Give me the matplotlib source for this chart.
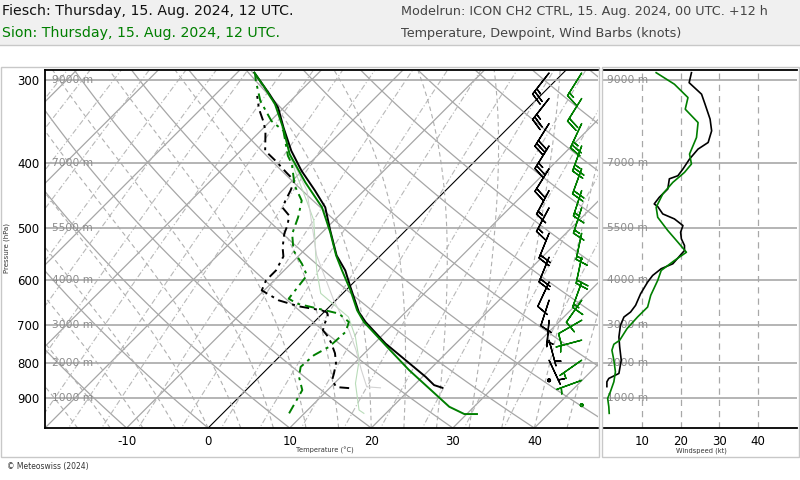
import numpy as np
import matplotlib
matplotlib.use("Agg")
import matplotlib.pyplot as plt
from matplotlib.patches import Rectangle
from matplotlib.lines import Line2D

plt.rcParams['axes.unicode_minus'] = False
plt.rcParams['font.family'] = ['DejaVu Sans']

# ---------------- data ----------------
# Sion (green) temperature profile
sion_p = [952.9, 952.9, 929.2, 872.1, 818.7, 755.5, 693.1, 665.7, 621.3, 580.0, 550.7,
          508.2, 466.2, 427.7, 387.8, 355.8, 326.4, 308.2, 292.7]
sion_t = [31.25, 29.7, 26.96, 22.25, 17.55, 12.0, 6.1, 3.84, 0.58, -2.9, -5.46,
          -9.03, -13.1, -18.2, -23.6, -27.4, -31.5, -34.8, -37.9]
# Sion dewpoint
sion_td_p = [950.6, 877.2, 837.9, 809.5, 777.4, 755.5, 717.5, 693.1, 673.3, 650.5, 639.4,
             590.1, 566.7, 541.3, 511.0, 482.6, 455.6, 432.6, 401.4, 390.1, 357.9,
             345.8, 322.7, 301.2, 292.9]
sion_td = [8.13, 6.9, 4.87, 3.85, 4.05, 4.87, 5.08, 4.26, 2.0, -4.34, -5.98,
           -6.59, -8.64, -11.3, -13.5, -14.8, -16.4, -19.1, -22.1, -23.6, -27.2,
           -29.9, -33.7, -36.7, -37.8]
# Fiesch (black) temperature profile
fie_p = [870.3, 862.2, 837.9, 791.0, 746.8, 693.1, 669.7, 614.3, 580.0, 550.7, 505.2,
         466.2, 440.1, 410.8, 383.4, 353.8, 330.3, 315.3, 292.7]
fie_t = [23.8, 22.45, 20.4, 15.9, 11.4, 6.3, 4.26, 0.17, -2.5, -5.4, -9.24,
         -12.7, -16.0, -20.1, -23.8, -27.6, -30.7, -33.4, -37.9]
# Fiesch dewpoint
fie_td_p = [871.2, 868.1, 847.5, 827.2, 799.2, 772.1, 743.4, 725.6, 713.3, 696.2, 677.3,
            670.3, 665.7, 656.6, 643.1, 621.3, 600.3, 580.0, 552.6, 535.7, 510.5,
            496.6, 479.8, 466.7, 455.6, 440.1, 425.2, 413.6, 396.9, 383.4, 357.9,
            345.8, 331.7, 317.2]
fie_td = [12.4, 10.7, 9.33, 8.71, 7.73, 6.38, 4.54, 3.19, 2.09, 1.47, 0.86,
          0.37, -0.5, -3.8, -7.0, -10.3, -11.0, -11.0, -11.8, -13.0, -14.5,
          -15.1, -16.1, -17.9, -18.4, -19.0, -19.75, -21.7, -24.5, -27.0, -29.4,
          -30.9, -32.9, -34.7]
# faint wet-bulb profiles
sion_tw_p = [950.6, 939.8, 857.2, 791.0, 730.0, 681.3, 627.8, 580.0, 541.3, 487.8, 455.6, 410.8, 353.8]
sion_tw = [17.3, 16.3, 12.6, 10.2, 6.9, 3.6, -2.7, -6.0, -8.6, -12.5, -15.8, -20.9, -27.8]
fie_tw_p = [870.3, 867.3, 818.7, 764.2, 713.3, 643.1, 550.7, 487.8, 440.0, 400.0]
fie_tw = [16.2, 14.4, 11.7, 8.6, 5.3, -0.25, -7.85, -12.8, -17.0, -22.0]

# wind speed profiles (kt)
fie_ws_p = [292.7, 303.0, 315.3, 326.4, 343.7, 357.9, 372.6, 381.2, 394.6, 408.4, 418.0,
            422.5, 437.6, 450.4, 460.8, 465.0, 477.0, 485.3, 496.6, 508.2, 519.9, 532.0,
            541.3, 566.7, 576.5, 590.1, 603.8, 628.5, 654.3, 669.7, 681.3, 701.0, 730.0,
            755.5, 791.0, 828.1, 842.5, 852.4, 866.7]
fie_ws = [22.8, 22.2, 25.4, 26.3, 27.6, 28.0, 27.1, 24.5, 22.3, 20.6, 19.3,
          17.1, 16.7, 14.5, 13.2, 14.1, 15.4, 18.4, 20.6, 20.0, 20.2, 21.0,
          21.0, 18.0, 15.0, 12.8, 11.5, 9.7, 8.4, 7.1, 5.4, 4.5, 4.1,
          4.3, 4.7, 4.1, 1.5, 1.0, 1.0]
sion_ws_p = [292.7, 304.6, 319.0, 332.1, 347.8, 366.2, 387.8, 401.4, 413.2, 427.7, 445.2,
             466.2, 482.6, 505.2, 526.0, 544.6, 560.5, 580.0, 600.3, 632.1, 658.2, 681.3,
             709.1, 738.3, 748.6, 764.2, 791.0, 823.4, 852.4, 882.2, 902.7, 929.2, 950.6]
sion_ws = [13.7, 18.4, 21.9, 21.2, 24.5, 24.1, 22.3, 22.8, 21.0, 18.0, 15.4,
           13.7, 14.1, 16.7, 19.3, 21.5, 18.4, 15.0, 14.1, 12.3, 11.5, 8.9,
           6.2, 4.3, 2.8, 2.3, 2.8, 3.2, 2.8, 1.9, 1.2, 1.5, 1.6]

# wind barbs (speed kt, direction deg)
fie_barb_p = [293, 320, 349, 377, 408, 440, 467, 510, 554, 604, 643, 689, 738, 791, 848]
fie_barb_spd = [22.8, 25.5, 27.8, 26, 20.6, 16.7, 14, 20, 20, 11.5, 7.5, 5, 4.2, 4.7, 1.3]
fie_barb_dir = [218, 218, 212, 212, 212, 208, 208, 202, 202, 205, 198, 185, 165, 155, 150]
sion_barb_p = [293, 320, 349, 377, 408, 440, 467, 510, 554, 604, 643, 689, 738, 791, 848, 924]
sion_barb_spd = [13.7, 22, 24.5, 23, 21.8, 15.4, 13.7, 17, 20, 14, 11.5, 8, 4.3, 2.8, 2.8, 1.5]
sion_barb_dir = [212, 212, 205, 200, 200, 198, 198, 192, 192, 200, 215, 240, 255, 235, 250, 260]

p_levels = [300, 400, 500, 600, 700, 800, 900]
p_labels = ['300', '400', '500', '600', '700', '800', '900']
h_labels = ['9000 m', '7000 m', '5500 m', '4000 m', '3000 m', '2000 m', '1000 m']
t_ticks = [-10, 0, 10, 20, 30, 40]
ws_ticks = [10, 20, 30, 40]

isotherms = list(range(-110, 60, 10))
dry_theta = list(range(-20, 170, 10))
moist_start = list(range(-16, 48, 4))
mix_ratios = [0.01, 0.02, 0.035, 0.05, 0.08, 0.12, 0.2, 0.3, 0.45, 0.7, 1.0, 1.4,
              2.0, 3.0, 4.3, 6.0, 8.5, 12.0, 16.0, 22.0, 30.0, 40.0]

# ---------------- figure layout ----------------
W, H = 800, 480
fig = plt.figure(figsize=(8, 4.8), dpi=100)
def fx(px): return px / W
def fy(py): return 1 - py / H

GREEN = '#007f00'
GRID = '#a6a6a6'

# header
fig.patches.append(Rectangle((0, fy(45)), 1, 1 - fy(45), transform=fig.transFigure,
                             facecolor='#f0f0f0', edgecolor='none', zorder=-5))
fig.lines.append(Line2D([0, 1], [fy(45), fy(45)], transform=fig.transFigure, color='#c8c8c8', lw=1))
fig.text(fx(2), fy(11), 'Fiesch: Thursday, 15. Aug. 2024, 12 UTC.', fontsize=10.2,
         color='#111111', va='center', ha='left')
fig.text(fx(2), fy(33), 'Sion: Thursday, 15. Aug. 2024, 12 UTC.', fontsize=10.2,
         color=GREEN, va='center', ha='left')
fig.text(fx(401), fy(11), 'Modelrun: ICON CH2 CTRL, 15. Aug. 2024, 00 UTC. +12 h', fontsize=9.2,
         color='#444444', va='center', ha='left')
fig.text(fx(401), fy(33), 'Temperature, Dewpoint, Wind Barbs (knots)', fontsize=9.2,
         color='#444444', va='center', ha='left')

# panel frames
fig.patches.append(Rectangle((fx(1), fy(457)), fx(599) - fx(1), fy(67) - fy(457),
                             transform=fig.transFigure, facecolor='none', edgecolor='#c8c8c8', lw=1))
fig.patches.append(Rectangle((fx(602), fy(457)), fx(799) - fx(602), fy(67) - fy(457),
                             transform=fig.transFigure, facecolor='none', edgecolor='#c8c8c8', lw=1))
fig.text(fx(7), fy(467), '\u00a9 Meteoswiss (2024)', fontsize=5.5, color='#333333', va='center')

# ---------------- skew-T axes ----------------
AX_L, AX_R, AX_T, AX_B = 45, 598, 70, 428
ax = fig.add_axes([fx(AX_L), fy(AX_B), (AX_R - AX_L) / W, (AX_B - AX_T) / H])
P_BOT, P_TOP = 1000.0, 290.0
X_MIN, X_MAX = -20.0, 47.8
px_deg = (AX_R - AX_L) / (X_MAX - X_MIN)
px_ln = (AX_B - AX_T) / np.log(P_BOT / P_TOP)
SKEW = px_ln / px_deg

def skx(T, p):
    return np.asarray(T, float) + SKEW * np.log(P_BOT / np.asarray(p, float))

ax.set_yscale('log')
ax.set_ylim(P_BOT, P_TOP)
ax.set_xlim(X_MIN, X_MAX)
pp = np.geomspace(1050, 280, 120)

for t0 in isotherms:
    ax.plot(skx(np.full_like(pp, t0), pp), pp, color='black' if t0 == 0 else GRID,
            lw=0.8 if t0 == 0 else 0.9, zorder=1)
for th in dry_theta:
    T = (th + 273.15) * (pp / 1000.0) ** 0.2857 - 273.15
    ax.plot(skx(T, pp), pp, color=GRID, lw=0.9, zorder=1)

def moist(T0c, plev):
    Rd, cp, Lv, eps = 287.04, 1005.7, 2.501e6, 0.622
    def f(T, p):
        Tc = T - 273.15
        es = 6.112 * np.exp(17.67 * Tc / (Tc + 243.5))
        rs = eps * es / (p - es)
        return (Rd * T + Lv * rs) / (cp + Lv ** 2 * rs * eps / (Rd * T ** 2))
    T = T0c + 273.15
    out = [T]
    for i in range(1, len(plev)):
        d = np.log(plev[i] / plev[i - 1])
        k1 = f(T, plev[i - 1])
        k2 = f(T + k1 * d, plev[i])
        T = T + 0.5 * (k1 + k2) * d
        out.append(T)
    return np.array(out) - 273.15

pm = np.geomspace(1000, 280, 200)
for t0 in moist_start:
    ax.plot(skx(moist(t0, pm), pm), pm, color='#b0b0b0', lw=0.8, dashes=(4, 3), zorder=1)
for w in mix_ratios:
    e = w * pp / (622.0 + w)
    le = np.log(e / 6.112)
    Td = 243.5 * le / (17.67 - le)
    ax.plot(skx(Td, pp), pp, color='#b8b8b8', lw=0.8, dashes=(5, 2, 1, 2), zorder=1)

for p, hl in zip(p_levels, h_labels):
    ax.axhline(p, color='#a8a8a8', lw=1.2, zorder=1.5)
    ax.text(0.012, p, hl, transform=ax.get_yaxis_transform(), fontsize=7.7, color='#8c8c8c',
            va='center', ha='left', zorder=2)

# wet bulb (faint)
ax.plot(skx(sion_tw, sion_tw_p), sion_tw_p, color='#b9dcb9', lw=0.8, zorder=2)
ax.plot(skx(fie_tw, fie_tw_p), fie_tw_p, color='#d2d2d2', lw=0.8, zorder=2)

# profiles
ax.plot(skx(fie_t, fie_p), fie_p, color='black', lw=1.4, zorder=4)
ax.plot(skx(sion_t, sion_p), sion_p, color=GREEN, lw=1.4, zorder=4)
ax.plot(skx(fie_td, fie_td_p), fie_td_p, color='black', lw=1.4, dashes=(5, 2.5, 1.5, 2.5), zorder=4)
ax.plot(skx(sion_td, sion_td_p), sion_td_p, color=GREEN, lw=1.4, dashes=(5, 2.5, 1.5, 2.5), zorder=4)

# wind barbs
def uv(spd, d):
    s = np.asarray(spd, float); r = np.deg2rad(np.asarray(d, float))
    return -s * np.sin(r), -s * np.cos(r)
u, v = uv(fie_barb_spd, fie_barb_dir)
ax.barbs(np.full(len(fie_barb_p), 41.8), fie_barb_p, u, v, length=6.2, lw=1.0,
         color='black', flip_barb=True, sizes=dict(emptybarb=0.05, height=0.45), zorder=5)
u, v = uv(sion_barb_spd, sion_barb_dir)
ax.barbs(np.full(len(sion_barb_p), 45.8), sion_barb_p, u, v, length=6.2, lw=1.0,
         color=GREEN, flip_barb=True, sizes=dict(emptybarb=0.05, height=0.45), zorder=5)

ax.set_yticks(p_levels)
ax.set_yticklabels(p_labels)
ax.yaxis.set_minor_locator(matplotlib.ticker.NullLocator())
ax.set_xticks(t_ticks)
ax.set_xticklabels([str(t) for t in t_ticks])
ax.tick_params(axis='both', length=0, labelsize=8.5)
ax.tick_params(axis='x', pad=5)
ax.tick_params(axis='y', pad=4)
for s in ['top', 'left', 'bottom']:
    ax.spines[s].set_linewidth(1.3)
    ax.spines[s].set_color('black')
ax.spines['right'].set_visible(False)

fig.text(fx(325), fy(450), 'Temperature (\u00b0C)', fontsize=4.8, ha='center', va='center', color='#333333')
fig.text(fx(7), fy(248), 'Pressure (hPa)', fontsize=5, ha='center', va='center', rotation=90, color='#333333')

# ---------------- wind speed panel ----------------
ax2 = fig.add_axes([fx(603), fy(AX_B), (797 - 603) / W, (AX_B - AX_T) / H])
ax2.set_yscale('log')
ax2.set_ylim(P_BOT, P_TOP)
ax2.set_xlim(0, 50)
for t in ws_ticks:
    ax2.axvline(t, color='#a8a8a8', lw=0.9, dashes=(5, 4), zorder=1)
for p, hl in zip(p_levels, h_labels):
    ax2.axhline(p, color='#a8a8a8', lw=1.2, zorder=1)
    ax2.text(0.02, p, hl, transform=ax2.get_yaxis_transform(), fontsize=7.7, color='#8c8c8c',
             va='center', ha='left', zorder=2)
ax2.plot(fie_ws, fie_ws_p, color='black', lw=1.2, zorder=3)
ax2.plot(sion_ws, sion_ws_p, color=GREEN, lw=1.2, zorder=3)
ax2.set_xticks(ws_ticks)
ax2.set_xticklabels([str(t) for t in ws_ticks])
ax2.set_yticks([])
ax2.yaxis.set_minor_locator(matplotlib.ticker.NullLocator())
ax2.tick_params(axis='both', length=0, labelsize=8.5)
ax2.tick_params(axis='x', pad=5)
for s in ['top', 'bottom']:
    ax2.spines[s].set_linewidth(1.3)
    ax2.spines[s].set_color('black')
for s in ['left', 'right']:
    ax2.spines[s].set_visible(False)
fig.text(fx(701), fy(451), 'Windspeed (kt)', fontsize=4.8, ha='center', va='center', color='#333333')

fig.savefig('out.png', dpi=100)
